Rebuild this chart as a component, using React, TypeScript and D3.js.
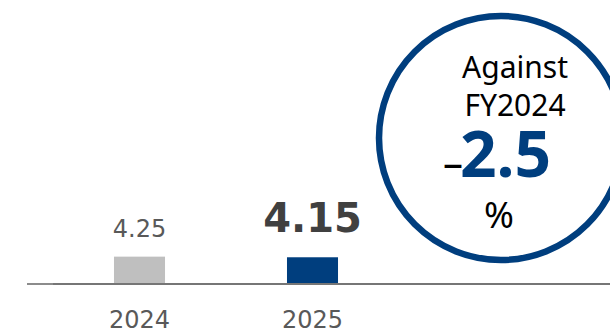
import React from "react";
import * as d3 from "d3";

const categories = ["2024", "2025"];
const values = [4.25, 4.15];
const valueLabels = ["4.25", "4.15"];
const circleLines = ["Against", "FY2024"];
const changeSign = "–";
const changeValue = "2.5";
const changeUnit = "%";

const W = 610;
const H = 331;

export default function App() {
  const x = d3
    .scaleBand<string>()
    .domain(categories)
    .range([53, 399])
    .paddingInner(0.705)
    .paddingOuter(0.3525);
  const y = d3.scaleLinear().domain([0, 45]).range([283, 4]);
  const bw = x.bandwidth();
  const barColors = ["#bfbfbf", "#003e7e"];

  return (
    <svg width={W} height={H} style={{ position: "absolute", left: 0, top: 0 }}>
      <rect width={W} height={H} fill="#fff" />
      {categories.map((c, i) => {
        const cx = (x(c) as number) + bw / 2;
        return (
          <g key={c}>
            <rect
              x={x(c)}
              y={y(values[i])}
              width={bw}
              height={y(0) - y(values[i])}
              fill={barColors[i]}
            />
            <text
              x={cx}
              y={i === 0 ? 237 : 232}
              textAnchor="middle"
              fontFamily="DejaVu Sans, Verdana, sans-serif"
              fontSize={i === 0 ? 24 : 40}
              fontWeight={i === 0 ? "normal" : "bold"}
              fill={i === 0 ? "#595959" : "#404040"}
            >
              {valueLabels[i]}
            </text>
            <text
              x={cx}
              y={327.5}
              textAnchor="middle"
              fontFamily="DejaVu Sans, Verdana, sans-serif"
              fontSize={24}
              fill="#595959"
            >
              {c}
            </text>
          </g>
        );
      })}
      <line x1={27} x2={53} y1={284} y2={284} stroke="#8c8c8c" strokeWidth={2} />
      <line x1={53} x2={W} y1={284} y2={284} stroke="#767676" strokeWidth={2} />
      <circle cx={501} cy={138} r={122} fill="#fff" stroke="#003e7e" strokeWidth={6.5} />
      <g fontFamily="Noto Sans, Open Sans, sans-serif" fill="#000">
        <text x={515} y={78} textAnchor="middle" fontSize={30}>
          {circleLines[0]}
        </text>
        <text x={515} y={116} textAnchor="middle" fontSize={30}>
          {circleLines[1]}
        </text>
        <text x={497} y={177} textAnchor="middle">
          <tspan fontSize={40} fill="#000">{changeSign}</tspan>
          <tspan fontSize={64} fontWeight="bold" fill="#003e7e" dx={-3}>{changeValue}</tspan>
        </text>
        <text x={499} y={228} textAnchor="middle" fontSize={36}>
          {changeUnit}
        </text>
      </g>
    </svg>
  );
}
